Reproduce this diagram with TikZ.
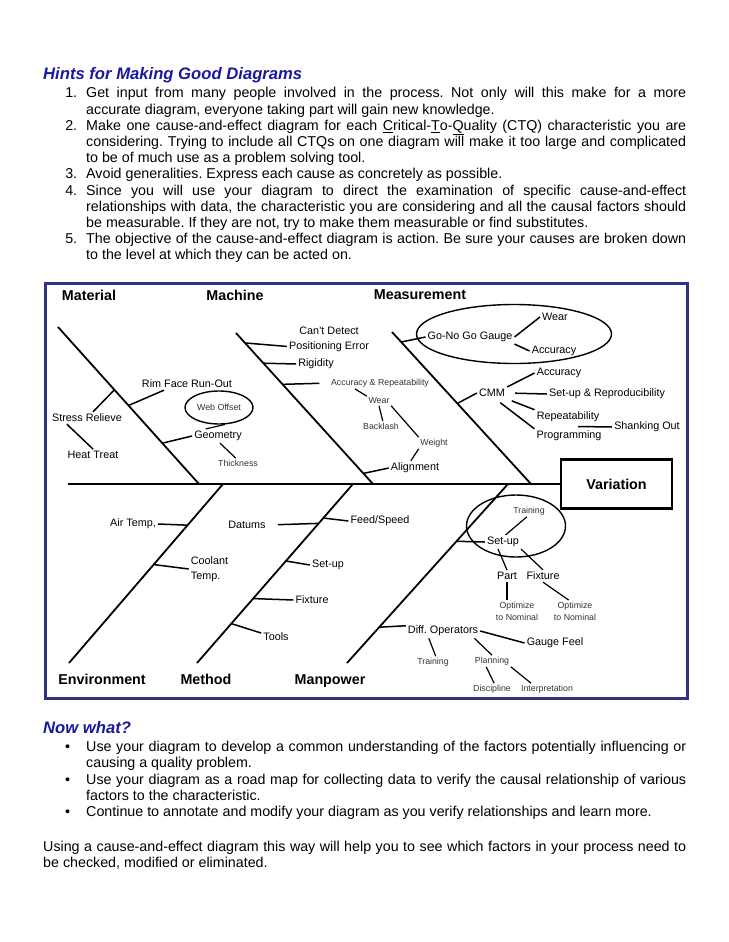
\documentclass[tikz,border=0pt]{standalone}
\usepackage{fontspec}
\setmainfont{Liberation Sans}
\usepackage{enumitem}
\usepackage{xcolor}
\usepackage{tikz}
\usetikzlibrary{shapes.geometric, calc}

\definecolor{hintblue}{RGB}{25,25,160}
\definecolor{framenavy}{RGB}{50,50,130}
\newcommand{\bodysize}{\fontsize{14.27}{16.2}\selectfont}
\hyphenpenalty=10000
\exhyphenpenalty=10000
\tolerance=9999
\frenchspacing

\begin{document}
\begin{tikzpicture}[x=1pt, y=-1pt,
    cat/.style={font=\bfseries\fontsize{14.3}{16}\selectfont, inner sep=0pt},
    cause/.style={font=\fontsize{10.8}{15}\selectfont, inner sep=2pt},
    minor/.style={font=\fontsize{8.8}{12}\selectfont, text=black!80, inner sep=1.5pt},
    bone/.style={line width=1.8pt},
    twig/.style={line width=1.5pt},
    sublink/.style={line width=1.2pt},
    ring/.style={ellipse, draw, line width=1.4pt, inner sep=0pt},
    heading/.style={anchor=base west, inner sep=0pt, text=hintblue,
                    font=\bfseries\itshape\fontsize{16.65}{19}\selectfont},
    prose/.style={anchor=north west, inner sep=0pt, text width=643pt,
                  align=justify, font=\bodysize}]
    \useasboundingbox (0,0) rectangle (728,942);

    % hints above the diagram
    \node[heading] (hintsTitle) at (43,79) {Hints for Making Good Diagrams};
    \node[prose] (hintsList) at (43,81.5) {%
      \begin{enumerate}[nosep, leftmargin=43pt, labelsep=9pt]
        \item Get input from many people involved in the process. Not only will this make for a more\linebreak
              accurate diagram, everyone taking part will gain new knowledge.
        \item Make one cause-and-effect diagram for each \underline{C}ritical-\underline{T}o-\underline{Q}uality (CTQ) characteristic you are\linebreak
              considering. Trying to include all CTQs on one diagram will make it too large and complicated\linebreak
              to be of much use as a problem solving tool.
        \item Avoid generalities. Express each cause as concretely as possible.
        \item Since you will use your diagram to direct the examination of specific cause-and-effect\linebreak
              relationships with data, the characteristic you are considering and all the causal factors should\linebreak
              be measurable. If they are not, try to make them measurable or find substitutes.
        \item The objective of the cause-and-effect diagram is action. Be sure your causes are broken down\linebreak
              to the level at which they can be acted on.
      \end{enumerate}};

    % frame of the fishbone
    \draw[framenavy, line width=3pt] (45,283) rectangle (687,698);

    % spine and effect
    \node[draw, line width=2.4pt, minimum width=111pt, minimum height=49pt, cat] (effect) at (616.5,484) {Variation};
    \coordinate (spineTail) at (68,484);
    \draw[line width=2.8pt] (spineTail) -- (effect.west);

    % main bones
    \coordinate (matTop) at (58,327);    \coordinate (matFoot) at (199,484);
    \coordinate (machTop) at (236,333);  \coordinate (machFoot) at (373,484);
    \coordinate (measTop) at (392,332);  \coordinate (measFoot) at (531,484);
    \coordinate (envBase) at (69,663);   \coordinate (envHead) at (223,484);
    \coordinate (methBase) at (197,663); \coordinate (methHead) at (353,484);
    \coordinate (manBase) at (347,663);  \coordinate (manHead) at (508,484);
    \foreach \a/\b in {matTop/matFoot, machTop/machFoot, measTop/measFoot,
                       envBase/envHead, methBase/methHead, manBase/manHead}
        \draw[bone] (\a) -- (\b);

    % categories
    \node[cat] (lblMat) at (89,295) {Material};
    \node[cat] (lblMach) at (235,295) {Machine};
    \node[cat] (lblMeas) at (420,295) {Measurement};
    \node[cat] (lblEnv) at (102,679) {Environment};
    \node[cat] (lblMeth) at (206,679) {Method};
    \node[cat] (lblMan) at (330,681) {Manpower};

    % material
    \coordinate (matS) at ($(matTop)!0.40!(matFoot)$);
    \coordinate (matR) at ($(matTop)!0.50!(matFoot)$);
    \coordinate (matG) at ($(matTop)!0.74!(matFoot)$);
    \node[cause] (rim) at (187,384) {Rim Face Run-Out};
    \node[cause] (stress) at (87,418) {Stress Relieve};
    \node[cause] (heat) at (93,455) {Heat Treat};
    \node[cause] (geom) at (218,436) {Geometry};
    \node[ring, minor, minimum width=68pt, minimum height=33pt] (web) at (219,407.5) {Web Offset};
    \node[minor] (thick) at (238,463) {Thickness};
    \draw[twig] (matS) -- (stress);
    \draw[twig] (matR) -- (rim.195);
    \draw[twig] (stress.197) -- (heat.north);
    \draw[twig] (matG) -- (geom.west);
    \draw[sublink] (geom.150) -- (web.290);
    \draw[sublink] (geom.-75) -- (thick.115);

    % machine
    \coordinate (machA) at ($(machTop)!0.066!(machFoot)$);
    \coordinate (machB) at ($(machTop)!0.20!(machFoot)$);
    \coordinate (machC) at ($(machTop)!0.34!(machFoot)$);
    \coordinate (machD) at ($(machTop)!0.93!(machFoot)$);
    \node[cause, align=center] (cantd) at (329,339) {Can't Detect\\Positioning Error};
    \node[cause] (rigid) at (316,364) {Rigidity};
    \node[minor] (accrep) at (380,383) {Accuracy \& Repeatability};
    \node[minor] (mwear) at (379,401) {Wear};
    \node[minor] (backl) at (381,426) {Backlash};
    \node[minor] (weight) at (434,443) {Weight};
    \node[cause] (align) at (415,468) {Alignment};
    \draw[twig] (machA) -- (cantd.190);
    \draw[twig] (machB) -- (rigid.west);
    \draw[twig, shorten >=10pt] (machC) -- (accrep.west);
    \draw[sublink] (accrep.193) -- (mwear.north west);
    \draw[sublink] (mwear.south) -- (backl.70);
    \draw[sublink] (mwear.south east) -- (weight.north west);
    \draw[sublink] (weight.south west) -- (align.120);
    \draw[twig] (machD) -- (align.west);

    % measurement
    \coordinate (measA) at ($(measTop)!0.066!(measFoot)$);
    \coordinate (measB) at ($(measTop)!0.47!(measFoot)$);
    \node[ring, minimum width=195pt, minimum height=59pt] (gaugeRing) at (514,334) {};
    \node[cause] (gng) at (470,337) {Go-No Go Gauge};
    \node[cause] (gwear) at (555,317) {Wear};
    \node[cause] (gacc) at (554,351) {Accuracy};
    \node[cause] (cmm) at (492,393) {CMM};
    \node[cause] (cacc) at (559,373) {Accuracy};
    \node[cause] (setrep) at (607,394) {Set-up \& Reproducibility};
    \node[cause] (repeat) at (568,417) {Repeatability};
    \node[cause] (prog) at (569,436) {Programming};
    \node[cause] (shank) at (647,427) {Shanking Out};
    \coordinate (shankTail) at (578,426.5);
    \draw[twig] (measA) -- (gng.west);
    \draw[twig] (gng.east) -- (gwear.west);
    \draw[twig] (gng.south east) -- (gacc.west);
    \draw[twig] (measB) -- (cmm.west);
    \draw[twig] (cmm.north east) -- (cacc.west);
    \draw[twig, shorten <=8pt] (cmm.east) -- (setrep.west);
    \draw[twig, shorten <=5pt] (cmm.south east) -- (repeat.north west);
    \draw[twig, shorten <=6pt] (cmm.-60) -- (prog.north west);
    \draw[twig] (shankTail) -- (shank.west);

    % environment
    \coordinate (envA) at ($(envBase)!0.77!(envHead)$);
    \coordinate (envB) at ($(envBase)!0.55!(envHead)$);
    \node[cause] (airt) at (133,524) {Air Temp,};
    \node[cause, align=left] (coolant) at (209.5,569) {Coolant\\Temp.};
    \draw[twig] (envA) -- (airt.east);
    \draw[twig] (envB) -- (coolant.west);

    % method
    \coordinate (methA) at ($(methBase)!0.78!(methHead)$);
    \coordinate (methB) at ($(methBase)!0.81!(methHead)$);
    \coordinate (methC) at ($(methBase)!0.57!(methHead)$);
    \coordinate (methD) at ($(methBase)!0.36!(methHead)$);
    \coordinate (methE) at ($(methBase)!0.22!(methHead)$);
    \node[cause] (datums) at (247,525) {Datums};
    \node[cause] (feed) at (380,521) {Feed/Speed};
    \node[cause] (setup) at (328,565) {Set-up};
    \node[cause] (fixt) at (312,600) {Fixture};
    \node[cause] (tools) at (276,637) {Tools};
    \draw[twig, shorten >=10pt] (methA) -- (datums.east);
    \draw[twig] (methB) -- (feed.west);
    \draw[twig] (methC) -- (setup.west);
    \draw[twig] (methD) -- (fixt.west);
    \draw[twig] (methE) -- (tools.165);

    % manpower
    \coordinate (manA) at ($(manBase)!0.68!(manHead)$);
    \coordinate (manB) at ($(manBase)!0.20!(manHead)$);
    \node[ring, minimum width=99pt, minimum height=62pt] (setupRing) at (516,526) {};
    \node[minor] (mtrain) at (529,511) {Training};
    \node[cause] (msetup) at (503,542) {Set-up};
    \node[cause] (part) at (507,576) {Part};
    \node[cause] (mfix) at (543,576) {Fixture};
    \node[minor, align=center] (popt) at (517,611) {Optimize\\to Nominal};
    \node[minor, align=center] (fopt) at (575,611) {Optimize\\to Nominal};
    \node[cause] (diffop) at (443,631) {Diff. Operators};
    \node[cause] (gfeel) at (555,643) {Gauge Feel};
    \node[minor] (dtrain) at (433,662) {Training};
    \node[minor] (plan) at (492,661) {Planning};
    \node[minor] (disc) at (492,689) {Discipline};
    \node[minor] (interp) at (547,689) {Interpretation};
    \draw[twig] (manA) -- (msetup.west);
    \draw[sublink] (msetup.70) -- (mtrain.250);
    \draw[sublink] (msetup.235) -- (part.north);
    \draw[sublink] (msetup.south east) -- (mfix.north);
    \draw[sublink] (part.south) -- (part.south |- popt.north);
    \draw[sublink] (mfix.south) -- (fopt.120);
    \draw[twig] (manB) -- (diffop.172);
    \draw[twig] (diffop.east) -- (gfeel.west);
    \draw[sublink] (diffop.207) -- (dtrain.65);
    \draw[sublink] (diffop.-13) -- (plan.north);
    \draw[sublink] (plan.225) -- (disc.70);
    \draw[sublink] (plan.south east) -- (interp.160);

    % what to do next
    \node[heading] (nowTitle) at (43,733) {Now what?};
    \node[prose] (nowList) at (43,735.3) {%
      \begin{itemize}[nosep, leftmargin=43pt, labelsep=16pt, label=\textbullet]
        \item Use your diagram to develop a common understanding of the factors potentially influencing or\linebreak
              causing a quality problem.
        \item Use your diagram as a road map for collecting data to verify the causal relationship of various\linebreak
              factors to the characteristic.
        \item Continue to annotate and modify your diagram as you verify relationships and learn more.
      \end{itemize}};
    \node[prose] (closing) at (43,840.8) {Using a cause-and-effect diagram this way will help you to see which factors in your process need to\linebreak
      be checked, modified or eliminated.};
\end{tikzpicture}
\end{document}
